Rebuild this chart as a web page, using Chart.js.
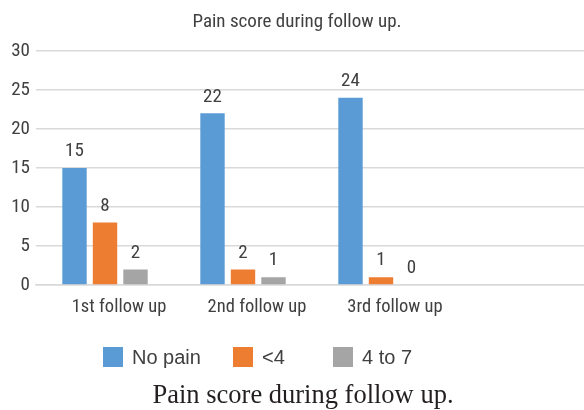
<!DOCTYPE html>
<html>
<head>
<meta charset="utf-8">
<script src="https://cdn.jsdelivr.net/npm/chart.js@4/dist/chart.umd.min.js"></script>
<style>
  html, body { margin: 0; padding: 0; background: #ffffff; overflow: hidden; }
  #wrap { width: 584px; height: 410px; overflow: hidden; position: relative; }
  canvas { display: block; }
</style>
</head>
<body>
<div id="wrap"><canvas id="chart" width="588" height="410"></canvas></div>
<script>
// Follow-up visits (the trailing slot is an empty category column)
const categories = ['1st follow up', '2nd follow up', '3rd follow up', ''];
const seriesNames = ['No pain', '<4', '4 to 7'];
const noPain = [15, 22, 24];
const under4 = [8, 2, 1];
const fourToSeven = [2, 1, 0];
const yTicks = [0, 5, 10, 15, 20, 25, 30];

const colors = ['#5B9BD5', '#ED7D31', '#A5A5A5'];
const narrow = "'Liberation Sans Narrow', 'Arial Narrow', 'Roboto Condensed', sans-serif";
const textColor = '#404040';

// Value written above each bar
const valueLabels = {
  id: 'valueLabels',
  afterDatasetsDraw(chart) {
    const ctx = chart.ctx;
    ctx.save();
    ctx.font = '19px ' + narrow;
    ctx.fillStyle = textColor;
    ctx.textAlign = 'center';
    ctx.textBaseline = 'middle';
    chart.data.datasets.forEach((ds, i) => {
      const meta = chart.getDatasetMeta(i);
      meta.data.forEach((bar, j) => {
        const v = ds.data[j];
        if (v === null || v === undefined) return;
        ctx.fillText(String(v), bar.x, bar.y - 16.5);
      });
    });
    ctx.restore();
  }
};

// Legend row and figure caption under the plot
const legendAndCaption = {
  id: 'legendAndCaption',
  afterDraw(chart, args, opts) {
    const ctx = chart.ctx;
    ctx.save();
    ctx.font = '20px ' + "'Liberation Sans', Arial, sans-serif";
    ctx.textBaseline = 'middle';
    ctx.textAlign = 'left';
    chart.data.datasets.forEach((ds, i) => {
      const x = opts.itemX[i];
      ctx.fillStyle = ds.backgroundColor;
      ctx.fillRect(x, opts.boxTop, opts.box, opts.box);
      ctx.fillStyle = textColor;
      ctx.fillText(ds.label, x + opts.box + 9, opts.boxTop + opts.box / 2 + 1);
    });
    ctx.font = opts.captionFont;
    ctx.fillStyle = '#231f20';
    ctx.textAlign = 'center';
    ctx.textBaseline = 'alphabetic';
    ctx.fillText(opts.caption, opts.captionX, opts.captionY);
    ctx.restore();
  }
};

const seriesData = [noPain, under4, fourToSeven];

new Chart(document.getElementById('chart'), {
  type: 'bar',
  data: {
    labels: categories,
    datasets: seriesNames.map((name, i) => ({
      label: name,
      data: seriesData[i],
      backgroundColor: colors[i],
      borderWidth: 0,
      categoryPercentage: 0.663,
      barPercentage: 0.8
    }))
  },
  options: {
    responsive: false,
    animation: false,
    devicePixelRatio: 1,
    layout: { padding: { left: 6, right: 0, top: 0, bottom: 90 } },
    plugins: {
      legend: { display: false },
      tooltip: { enabled: false },
      title: {
        display: true,
        text: 'Pain score during follow up.',
        color: textColor,
        font: { family: narrow, size: 19, weight: 'normal' },
        padding: { top: 11, bottom: 17 }
      },
      legendAndCaption: {
        itemX: [103, 233, 333],
        boxTop: 347,
        box: 20,
        caption: 'Pain score during follow up.',
        captionFont: "26.5px 'Liberation Serif', 'Times New Roman', serif",
        captionX: 303,
        captionY: 403
      }
    },
    scales: {
      x: {
        grid: { display: false, drawTicks: false },
        border: { display: true, color: '#d9d9d9', width: 1.5 },
        ticks: {
          color: textColor,
          font: { family: narrow, size: 18.5 },
          padding: 11,
          labelOffset: 14,
          maxRotation: 0,
          autoSkip: false
        },
        afterFit(scale) { scale.height = 35; }
      },
      y: {
        min: 0,
        max: 30,
        afterBuildTicks(scale) { scale.ticks = yTicks.map(v => ({ value: v })); },
        grid: { color: '#d9d9d9', lineWidth: 1.5, drawTicks: false },
        border: { display: false },
        ticks: {
          color: textColor,
          font: { family: narrow, size: 19 },
          padding: 6
        },
        afterFit(scale) { scale.width = 30; }
      }
    }
  },
  plugins: [valueLabels, legendAndCaption]
});
</script>
</body>
</html>
